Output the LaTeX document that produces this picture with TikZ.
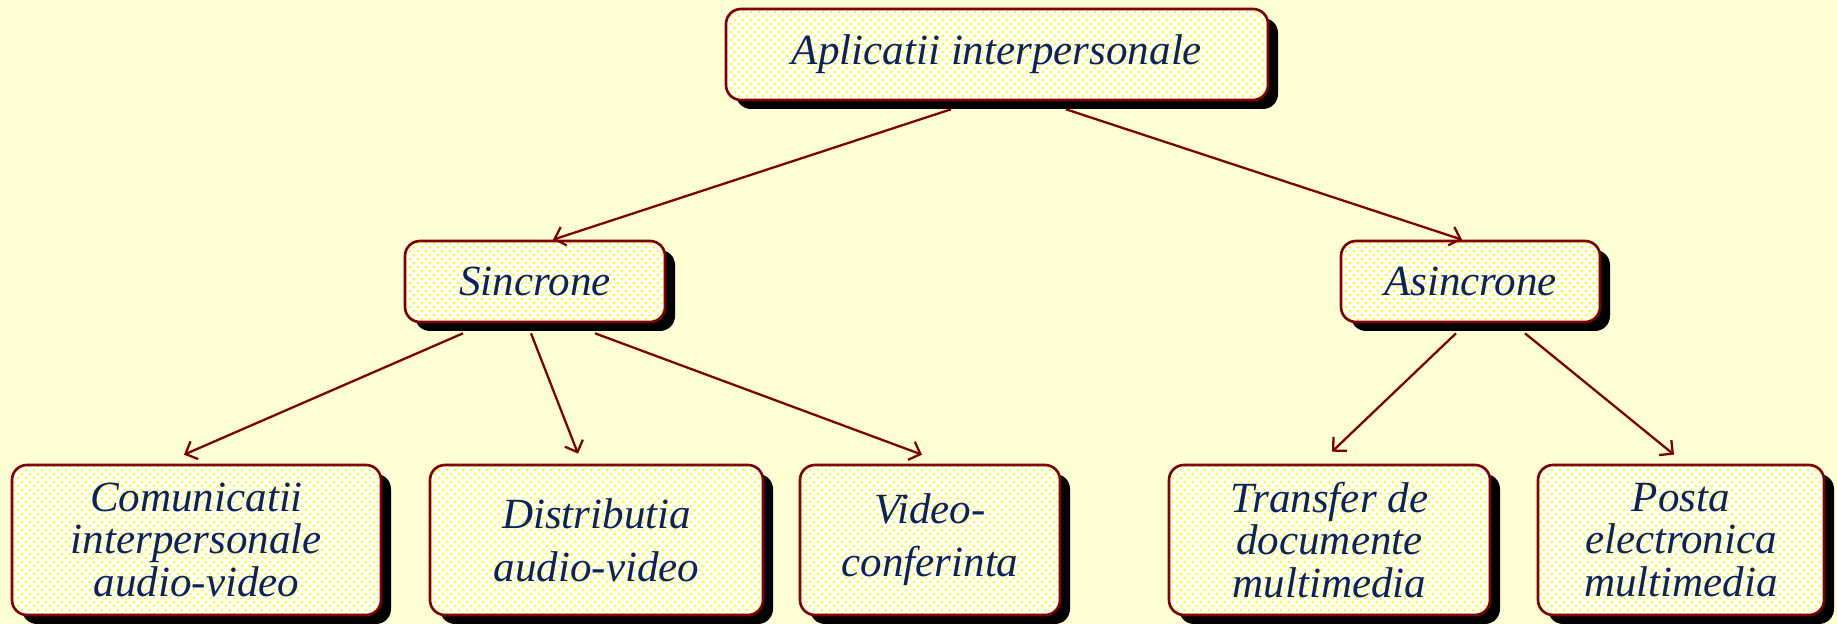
\documentclass[tikz,border=0pt]{standalone}
\usepackage{fontspec}
\setmainfont{Liberation Serif}
\usetikzlibrary{shadows,patterns,arrows.meta,calc}
\definecolor{bg}{RGB}{255,255,214}
\definecolor{brd}{RGB}{128,0,0}
\definecolor{txt}{RGB}{10,35,95}
\pgfdeclarepatternformonly{ydots}{\pgfpoint{0pt}{0pt}}{\pgfpoint{4.8pt}{4.8pt}}{\pgfpoint{4.8pt}{4.8pt}}{%
  \pgfpathcircle{\pgfpoint{1.2pt}{1.2pt}}{0.9pt}%
  \pgfpathcircle{\pgfpoint{3.6pt}{3.6pt}}{0.9pt}%
  \pgfusepath{fill}}
\tikzset{
  box/.style={general shadow={shadow xshift=0.2cm,shadow yshift=-0.18cm,fill=black},
    preaction={fill=white}, pattern=ydots, pattern color=yellow,
    draw=brd, line width=1.5pt, rounded corners=0.3cm, align=center, text=txt,
    font=\fontsize{24.5}{24}\selectfont\itshape, inner sep=0pt},
  conn/.style={draw=brd, line width=1.3pt, -{Straight Barb[length=5.5pt,width=11pt]}}
}
\begin{document}
\begin{tikzpicture}[x=0.02cm,y=-0.02cm]
\useasboundingbox (0,0) rectangle (1837,624);
\fill[bg] (0,0) rectangle (1837,624);
\node[box, minimum width=542*0.02cm, minimum height=91*0.02cm] (top) at (997,54.5) {Aplicatii interpersonale};
\node[box, minimum width=260*0.02cm, minimum height=81*0.02cm] (sinc) at (535,281.5) {Sincrone};
\node[box, minimum width=259*0.02cm, minimum height=81*0.02cm] (asinc) at (1470.5,281.5) {Asincrone};
\node[box, minimum width=369*0.02cm, minimum height=150*0.02cm] (com) at (196.5,540) {Comunicatii\\interpersonale\\audio-video};
\node[box, minimum width=333*0.02cm, minimum height=150*0.02cm] (dist) at (596.5,540) {Distributia\\[6pt]audio-video};
\node[box, minimum width=260*0.02cm, minimum height=150*0.02cm] (video) at (930,540) {Video-\\[6pt]conferinta};
\node[box, minimum width=321*0.02cm, minimum height=150*0.02cm] (transf) at (1329.5,540) {Transfer de\\documente\\multimedia};
\node[box, minimum width=286*0.02cm, minimum height=150*0.02cm] (posta) at (1681,540) {Posta\\electronica\\multimedia};
\draw[conn] ($(top.south)+(-46,8)$) -- ($(sinc.north)+(18,0)$);
\draw[conn] ($(top.south)+(69,8)$) -- ($(asinc.north)+(-8.5,0)$);
\draw[conn] ($(sinc.south)+(-72,10)$) -- ($(com.north)+(-12.5,-9)$);
\draw[conn] ($(sinc.south)+(-4,10)$) -- ($(dist.north)+(-18.5,-10)$);
\draw[conn] ($(sinc.south)+(60,10)$) -- ($(video.north)+(-8,-9)$);
\draw[conn] ($(asinc.south)+(-14.5,10)$) -- ($(transf.north)+(2.5,-12)$);
\draw[conn] ($(asinc.south)+(54.5,10)$) -- ($(posta.north)+(-7,-9)$);
\end{tikzpicture}
\end{document}
